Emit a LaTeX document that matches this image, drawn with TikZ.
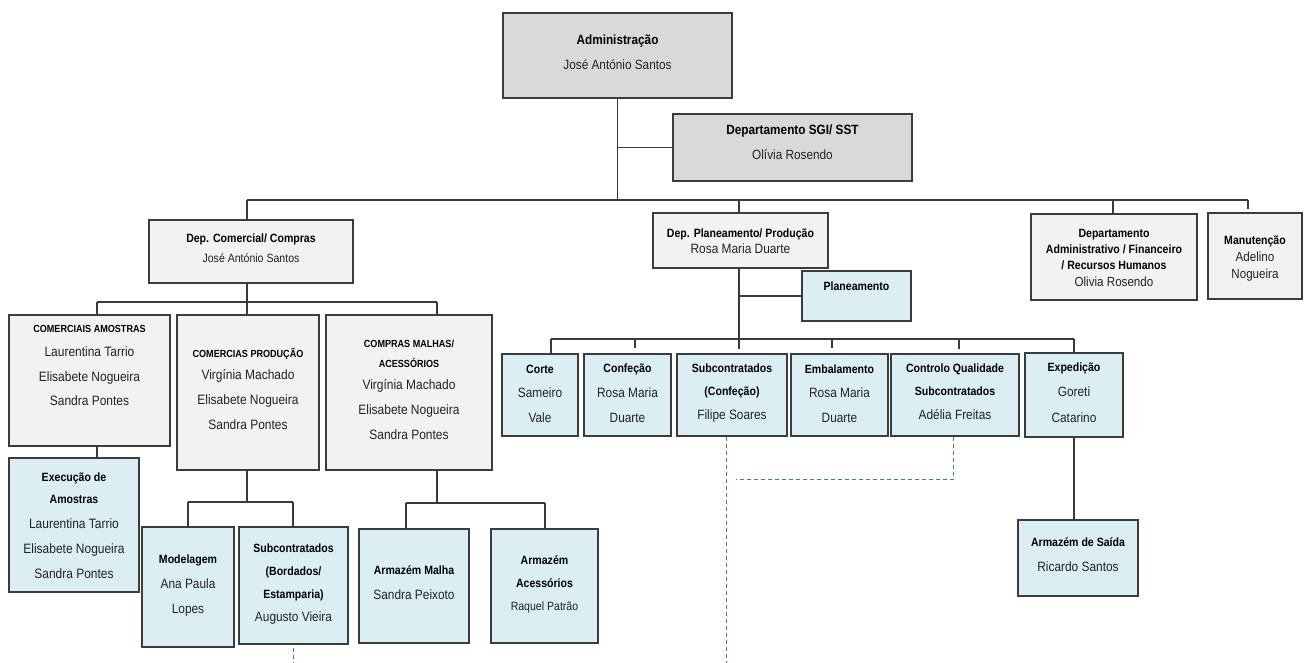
\documentclass[tikz,border=0pt]{standalone}
\usepackage{fontspec}
\setmainfont[FakeStretch=0.88]{Liberation Sans}
\usetikzlibrary{fit}
\definecolor{dgray}{HTML}{D9D9D9}
\definecolor{lgray}{HTML}{F2F2F2}
\definecolor{lblue}{HTML}{DAEEF3}
\definecolor{edgecol}{HTML}{3C3C3C}
\definecolor{conncol}{HTML}{3A3A3A}
\definecolor{dashcol}{HTML}{3F78C8}
\definecolor{nametext}{HTML}{222222}
\newcommand\txtlines[2]{\vtop{\baselineskip=#1\relax\lineskiplimit=-\maxdimen\lineskip=0pt\halign{\hfil##\hfil\cr#2\crcr}}}
\newcommand\ttl[2]{\hbox{\fontsize{#1}{#1}\selectfont\bfseries\color{black}#2}}
\newcommand\nme[2]{\hbox{\fontsize{#1}{#1}\selectfont\color{nametext}#2}}
\begin{document}
\begin{tikzpicture}[x=1pt,y=-1pt,
  box/.style={draw=edgecol, line width=1.4pt, inner sep=0pt},
  gbox/.style={box, fill=dgray},
  lbox/.style={box, fill=lgray},
  bbox/.style={box, fill=lblue},
  txt/.style={anchor=base, inner sep=0pt},
  conn/.style={draw=conncol, line width=1.3pt},
  dsh/.style={draw=dashcol, line width=1.2pt, dash pattern=on 4pt off 3pt}]
\useasboundingbox[fill=white] (0,0) rectangle (1304,663);

% boxes
\node[gbox, fit={(503,13)(732,98)}] (adm) {};
\node[gbox, fit={(673,114)(912,181)}] (sgi) {};
\node[lbox, fit={(149,220)(353,283)}] (dcom) {};
\node[lbox, fit={(653,213)(828,268)}] (dplan) {};
\node[lbox, fit={(1031,214)(1197,300)}] (dadm) {};
\node[lbox, fit={(1208,213)(1302,299)}] (manut) {};
\node[bbox, fit={(802,271)(911,321)}] (plan) {};
\node[lbox, fit={(9,315)(170,446)}] (comam) {};
\node[lbox, fit={(177,315)(319,470)}] (comprod) {};
\node[lbox, fit={(326,315)(492,470)}] (compras) {};
\node[bbox, fit={(9,458)(139,592)}] (exec) {};
\node[bbox, fit={(142,527)(234,647)}] (model) {};
\node[bbox, fit={(239,527)(348,644)}] (subbord) {};
\node[bbox, fit={(359,529)(469,643)}] (armmal) {};
\node[bbox, fit={(491,529)(598,643)}] (armacc) {};
\node[bbox, fit={(502,354)(578,436)}] (corte) {};
\node[bbox, fit={(584,354)(671,436)}] (conf) {};
\node[bbox, fit={(677,354)(787,436)}] (subconf) {};
\node[bbox, fit={(791,354)(888,436)}] (emb) {};
\node[bbox, fit={(891,354)(1019,436)}] (ctrl) {};
\node[bbox, fit={(1025,353)(1123,437)}] (exped) {};
\node[bbox, fit={(1018,520)(1138,596)}] (saida) {};

% texts
\node[txt] (adm-t) at (adm |- 0,45) {\txtlines{25pt}{\ttl{13.4}{Administração}\cr\nme{13.4}{José António Santos}\cr}};
\node[txt] (sgi-t) at (sgi |- 0,135) {\txtlines{25pt}{\ttl{13.4}{Departamento SGI/ SST}\cr\nme{13.4}{Olívia Rosendo}\cr}};
\node[txt] (dcom-t) at (dcom |- 0,243) {\txtlines{20pt}{\ttl{12}{Dep. Comercial/ Compras}\cr\nme{12}{José António Santos}\cr}};
\node[txt] (dplan-t) at (dplan |- 0,237) {\txtlines{17pt}{\ttl{12}{Dep. Planeamento/ Produção}\cr\nme{13.5}{Rosa Maria Duarte}\cr}};
\node[txt] (dadm-t) at (dadm |- 0,238) {\txtlines{16pt}{\ttl{12}{Departamento}\cr\ttl{12}{Administrativo / Financeiro}\cr\ttl{12}{/ Recursos Humanos}\cr\nme{13.2}{Olivia Rosendo}\cr}};
\node[txt] (manut-t) at (manut |- 0,245) {\txtlines{17pt}{\ttl{12}{Manutenção}\cr\nme{13.2}{Adelino}\cr\nme{13.2}{Nogueira}\cr}};
\node[txt] (plan-t) at (plan |- 0,290) {\txtlines{17pt}{\ttl{12}{Planeamento}\cr}};
\node[txt] (comam-t) at (comam |- 0,332) {\txtlines{24.5pt}{\ttl{10.3}{COMERCIAIS AMOSTRAS}\cr\nme{13.6}{Laurentina Tarrio}\cr\nme{13.6}{Elisabete Nogueira}\cr\nme{13.6}{Sandra Pontes}\cr}};
\node[txt] (comprod-t) at (comprod |- 0,357) {\txtlines{25pt}{\ttl{10.3}{COMERCIAS PRODUÇÃO}\cr\noalign{\vskip-3pt}\nme{13.6}{Virgínia Machado}\cr\nme{13.6}{Elisabete Nogueira}\cr\nme{13.6}{Sandra Pontes}\cr}};
\node[txt] (compras-t) at (compras |- 0,347) {\txtlines{25pt}{\ttl{10.3}{COMPRAS MALHAS/}\cr\noalign{\vskip-5pt}\ttl{10.3}{ACESSÓRIOS}\cr\noalign{\vskip-3pt}\nme{13.6}{Virgínia Machado}\cr\nme{13.6}{Elisabete Nogueira}\cr\nme{13.6}{Sandra Pontes}\cr}};
\node[txt] (exec-t) at (exec |- 0,481) {\txtlines{25pt}{\ttl{12}{Execução de}\cr\noalign{\vskip-3pt}\ttl{12}{Amostras}\cr\nme{13.6}{Laurentina Tarrio}\cr\nme{13.6}{Elisabete Nogueira}\cr\nme{13.6}{Sandra Pontes}\cr}};
\node[txt] (model-t) at (model |- 0,563) {\txtlines{25pt}{\ttl{12}{Modelagem}\cr\nme{13.5}{Ana Paula}\cr\nme{13.5}{Lopes}\cr}};
\node[txt] (subbord-t) at (subbord |- 0,552) {\txtlines{23pt}{\ttl{12}{Subcontratados}\cr\ttl{12}{(Bordados/}\cr\ttl{12}{Estamparia)}\cr\nme{13.5}{Augusto Vieira}\cr}};
\node[txt] (armmal-t) at (armmal |- 0,574) {\txtlines{25pt}{\ttl{12}{Armazém Malha}\cr\nme{13.5}{Sandra Peixoto}\cr}};
\node[txt] (armacc-t) at (armacc |- 0,564) {\txtlines{23pt}{\ttl{12}{Armazém}\cr\ttl{12}{Acessórios}\cr\nme{12}{Raquel Patrão}\cr}};
\node[txt] (corte-t) at (corte |- 0,373) {\txtlines{24.5pt}{\ttl{12}{Corte}\cr\nme{13.5}{Sameiro}\cr\nme{13.5}{Vale}\cr}};
\node[txt] (conf-t) at (conf |- 0,372) {\txtlines{25pt}{\ttl{12}{Confeção}\cr\nme{13.5}{Rosa Maria}\cr\nme{13.5}{Duarte}\cr}};
\node[txt] (subconf-t) at (subconf |- 0,372) {\txtlines{23.5pt}{\ttl{12}{Subcontratados}\cr\ttl{12}{(Confeção)}\cr\nme{13.5}{Filipe Soares}\cr}};
\node[txt] (emb-t) at (emb |- 0,373) {\txtlines{24.5pt}{\ttl{12}{Embalamento}\cr\nme{13.5}{Rosa Maria}\cr\nme{13.5}{Duarte}\cr}};
\node[txt] (ctrl-t) at (ctrl |- 0,372) {\txtlines{23.5pt}{\ttl{12}{Controlo Qualidade}\cr\ttl{12}{Subcontratados}\cr\nme{13.5}{Adélia Freitas}\cr}};
\node[txt] (exped-t) at (exped |- 0,371) {\txtlines{25.5pt}{\ttl{12}{Expedição}\cr\nme{13.5}{Goreti}\cr\nme{13.5}{Catarino}\cr}};
\node[txt] (saida-t) at (saida |- 0,546) {\txtlines{25pt}{\ttl{12}{Armazém de Saída}\cr\nme{13.5}{Ricardo Santos}\cr}};

% top level connectors
\coordinate (b0a) at (247,200);
\coordinate (b0p) at (739,200);
\coordinate (b0d) at (1113,200);
\coordinate (b0b) at (1248,200);
\draw[conn] (adm.south) -- (adm.south |- b0a);
\draw[conn] (adm.south |- sgi.west) -- (sgi.west);
\draw[conn] (b0a) -- (b0b);
\draw[conn] (b0a) -- (b0a |- dcom.north);
\draw[conn] (b0p) -- (b0p |- dplan.north);
\draw[conn] (b0d) -- (b0d |- dadm.north);
\draw[conn] (b0b) -- ([yshift=3pt]b0b |- manut.north);

% commercial branch
\coordinate (b1) at (247,302);
\coordinate (b1a) at (97,302);
\coordinate (b1b) at (437,302);
\draw[conn] (b1 |- dcom.south) -- (b1);
\draw[conn] (b1a) -- (b1b);
\draw[conn] (b1a) -- (b1a |- comam.north);
\draw[conn] (b1) -- (b1 |- comprod.north);
\draw[conn] (b1b) -- (b1b |- compras.north);
\draw[conn] (b1a |- comam.south) -- (b1a |- exec.north);

\coordinate (b2) at (247,502);
\coordinate (b2a) at (188,502);
\coordinate (b2b) at (293,502);
\draw[conn] (b2 |- comprod.south) -- (b2);
\draw[conn] (b2a) -- (b2b);
\draw[conn] (b2a) -- (b2a |- model.north);
\draw[conn] (b2b) -- (b2b |- subbord.north);

\coordinate (b3) at (437,503);
\coordinate (b3a) at (406,503);
\coordinate (b3b) at (545,503);
\draw[conn] (b3 |- compras.south) -- (b3);
\draw[conn] (b3a) -- (b3b);
\draw[conn] (b3a) -- (b3a |- armmal.north);
\draw[conn] (b3b) -- (b3b |- armacc.north);

% production branch
\coordinate (b4) at (739,339);
\coordinate (b4a) at (551,339);
\coordinate (b4c) at (635,339);
\coordinate (b4e) at (832,339);
\coordinate (b4g) at (959,339);
\coordinate (b4f) at (1074,339);
\draw[conn] (b4 |- dplan.south) -- (b4);
\draw[conn] (b4 |- plan.west) -- (plan.west);
\draw[conn] (b4a) -- (b4f);
\draw[conn] (b4a) -- (b4a |- corte.north);
\draw[conn] (b4c) -- ([yshift=5pt]b4c |- conf.north);
\draw[conn] (b4) -- ([yshift=4pt]b4 |- subconf.north);
\draw[conn] (b4e) -- ([yshift=5pt]b4e |- emb.north);
\draw[conn] (b4g) -- ([yshift=4pt]b4g |- ctrl.north);
\draw[conn] (b4f) -- (b4f |- exped.north);
\draw[conn] (b4f |- exped.south) -- (b4f |- saida.north);

% dashed links
\coordinate (d1) at (726.5,663);
\coordinate (d2) at (953.5,479.5);
\coordinate (d2b) at (736,479.5);
\coordinate (d3) at (293.5,663);
\draw[dsh] (d1 |- subconf.south) -- (d1);
\draw[dsh] (d2 |- ctrl.south) -- (d2) -- (d2b);
\draw[dsh] ([yshift=-3pt]d3 |- subbord.south) -- (d3);
\end{tikzpicture}
\end{document}
